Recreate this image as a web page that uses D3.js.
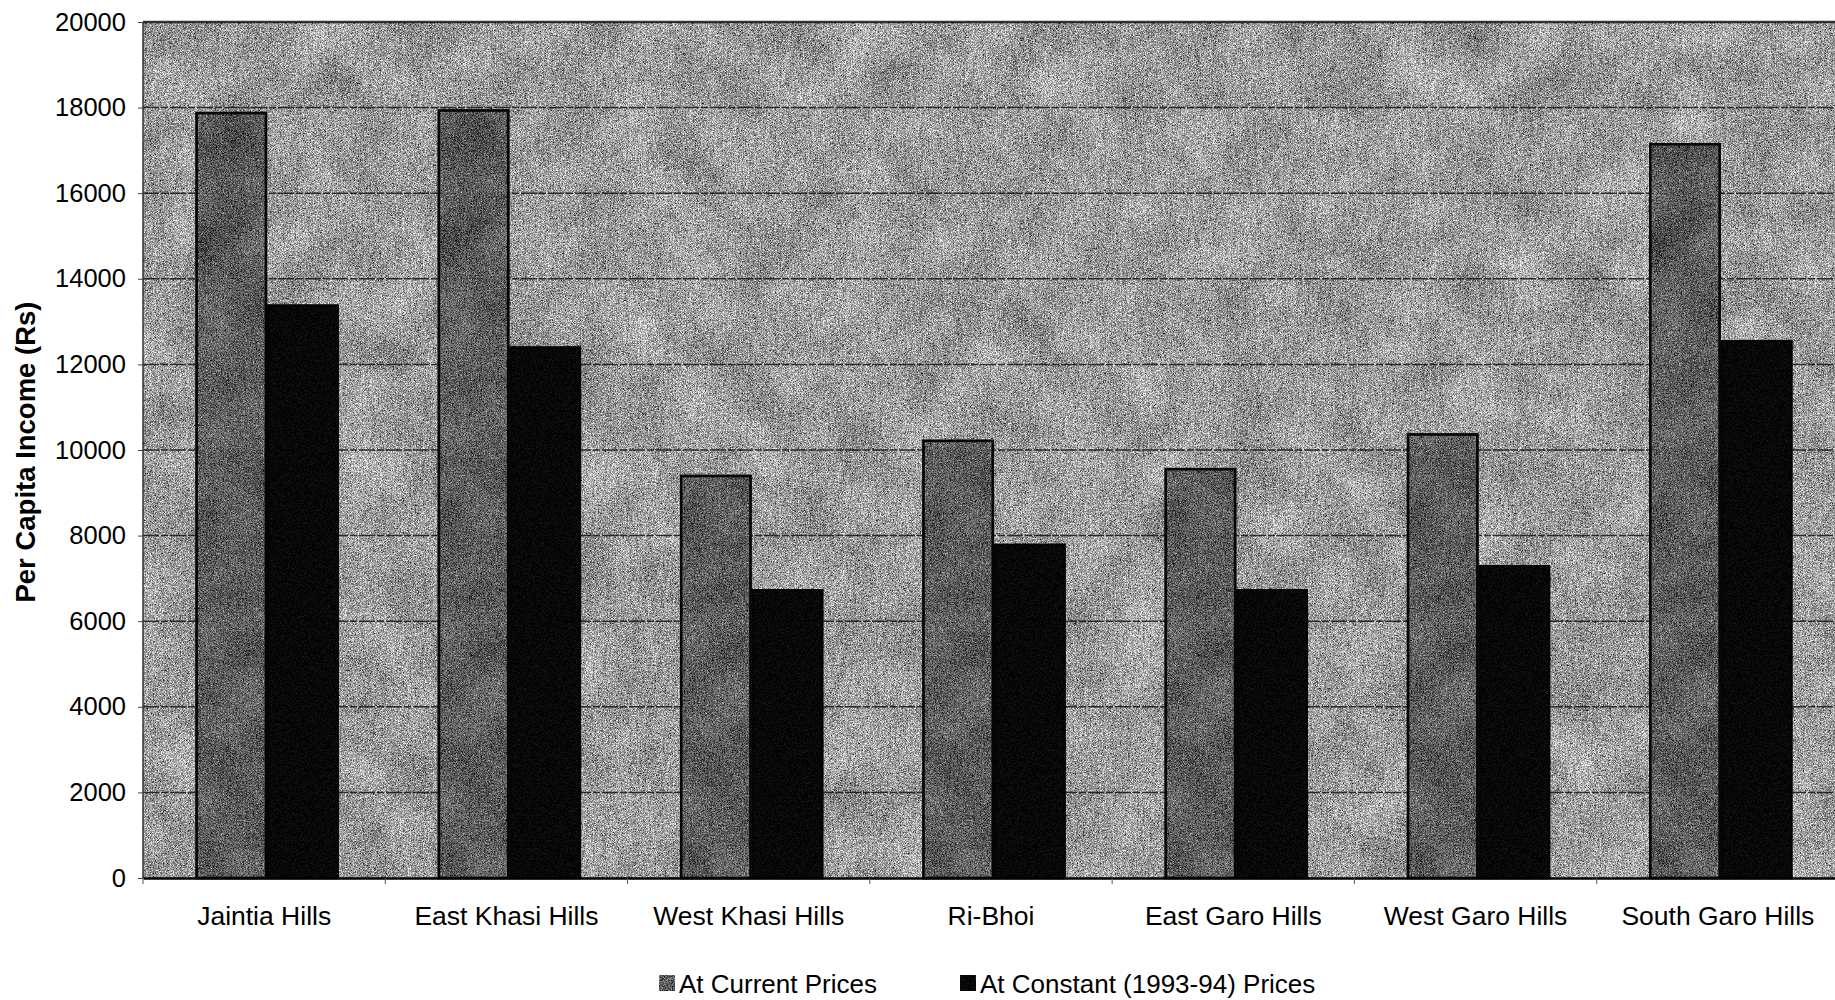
<!DOCTYPE html>
<html>
<head>
<meta charset="utf-8">
<script src="https://cdn.jsdelivr.net/npm/d3@7"></script>
<style>
  html, body { margin: 0; padding: 0; background: #ffffff; }
  svg { display: block; font-family: "Liberation Sans", Arial, Helvetica, sans-serif; }
</style>
</head>
<body>
<svg id="chart" width="1835" height="1000"></svg>
<script>
// ---- data ----
const categories = ["Jaintia Hills", "East Khasi Hills", "West Khasi Hills", "Ri-Bhoi",
                    "East Garo Hills", "West Garo Hills", "South Garo Hills"];
const seriesNames = ["At Current Prices", "At Constant (1993-94) Prices"];
const currentPrices  = [17900, 17960, 9420, 10240, 9580, 10390, 17170];
const constantPrices = [13400, 12420, 6750, 7810, 6750, 7310, 12570];
const yTicks = [0, 2000, 4000, 6000, 8000, 10000, 12000, 14000, 16000, 18000, 20000];
const yTitle = "Per Capita Income (Rs)";

// ---- layout ----
const plot = { left: 143, top: 22, right: 1839, bottom: 878 };

const svg = d3.select("#chart");
const defs = svg.append("defs");

// grain filter: adds grayscale speckle noise (plus faint blotches) to the source colour
function grainFilter(id, freq, amount, blotAmount, seed) {
  const f = defs.append("filter").attr("id", id)
    .attr("x", 0).attr("y", 0).attr("width", "100%").attr("height", "100%")
    .attr("filterUnits", "objectBoundingBox").attr("color-interpolation-filters", "sRGB");
  const gm = "0.33 0.33 0.33 0 0  0.33 0.33 0.33 0 0  0.33 0.33 0.33 0 0  0 0 0 0 1";
  f.append("feTurbulence").attr("type", "fractalNoise").attr("baseFrequency", freq)
    .attr("numOctaves", 1).attr("seed", seed).attr("result", "noise");
  f.append("feColorMatrix").attr("in", "noise").attr("type", "matrix").attr("values", gm)
    .attr("result", "gray");
  f.append("feTurbulence").attr("type", "fractalNoise").attr("baseFrequency", 0.018)
    .attr("numOctaves", 2).attr("seed", seed + 7).attr("result", "blot");
  f.append("feColorMatrix").attr("in", "blot").attr("type", "matrix").attr("values", gm)
    .attr("result", "blotGray");
  f.append("feComposite").attr("in", "SourceGraphic").attr("in2", "gray")
    .attr("operator", "arithmetic").attr("k1", 0).attr("k2", 1).attr("k3", amount).attr("k4", -amount / 2)
    .attr("result", "mix1");
  f.append("feComposite").attr("in", "mix1").attr("in2", "blotGray")
    .attr("operator", "arithmetic").attr("k1", 0).attr("k2", 1).attr("k3", blotAmount).attr("k4", -blotAmount / 2)
    .attr("result", "mix2");
  f.append("feComposite").attr("in", "mix2").attr("in2", "SourceGraphic").attr("operator", "in");
}
grainFilter("grainBg", 1.4, 2.6, 0.45, 3);
grainFilter("grainBar", 1.4, 2.0, 0.4, 11);
grainFilter("grainDark", 1.4, 0.5, 0.0, 19);

// ---- scales ----
const x = d3.scaleBand().domain(categories).range([plot.left, plot.right]).paddingInner(0).paddingOuter(0);
const xs = d3.scaleBand().domain(seriesNames).range([0, x.bandwidth()])
  .paddingInner(0).paddingOuter(0.69).align(0.53);
const y = d3.scaleLinear().domain([0, 20000]).range([plot.bottom, plot.top]);

const rows = categories.map((c, i) => ({ cat: c, values: [currentPrices[i], constantPrices[i]] }));

// ---- plot background ----
svg.append("rect")
  .attr("x", plot.left).attr("y", plot.top)
  .attr("width", plot.right - plot.left).attr("height", plot.bottom - plot.top)
  .attr("fill", "#a0a0a0").attr("filter", "url(#grainBg)");

// gridlines
svg.append("g").selectAll("line").data(yTicks.filter(t => t > 0)).join("line")
  .attr("x1", plot.left).attr("x2", plot.right)
  .attr("y1", d => y(d)).attr("y2", d => y(d))
  .attr("stroke", "#151515").attr("stroke-width", d => d === 20000 ? 2.5 : 1.5)
  .attr("stroke-dasharray", d => d === 20000 ? null : "16,2,7,2")
  .attr("opacity", 0.85);

// left border of plot
svg.append("line").attr("x1", plot.left).attr("x2", plot.left)
  .attr("y1", plot.top).attr("y2", plot.bottom)
  .attr("stroke", "#333").attr("stroke-width", 1.5);

// ---- bars ----
const seriesFill = ["#606060", "#080808"];
const seriesFilter = ["url(#grainBar)", "url(#grainDark)"];
const groups = svg.append("g").selectAll("g").data(rows).join("g")
  .attr("transform", d => `translate(${x(d.cat)},0)`);
groups.selectAll("rect.bar")
  .data(d => d.values.map((v, j) => ({ s: seriesNames[j], j, v })))
  .join("rect").attr("class", "bar")
  .attr("x", d => xs(d.s))
  .attr("y", d => y(d.v))
  .attr("width", xs.bandwidth())
  .attr("height", d => y(0) - y(d.v))
  .attr("fill", d => seriesFill[d.j])
  .attr("filter", d => seriesFilter[d.j]);
// bar outlines
groups.selectAll("rect.outline")
  .data(d => d.values.map((v, j) => ({ s: seriesNames[j], j, v })))
  .join("rect").attr("class", "outline")
  .attr("x", d => xs(d.s) + 1.2)
  .attr("y", d => y(d.v) + 1.2)
  .attr("width", xs.bandwidth() - 2.4)
  .attr("height", d => y(0) - y(d.v) - 1.2)
  .attr("fill", "none").attr("stroke", "#050505").attr("stroke-width", 2.6);

// ---- axes ----
const yAxis = d3.axisLeft(y).tickValues(yTicks).tickSize(5).tickPadding(12).tickFormat(d3.format("d"));
const gy = svg.append("g").attr("transform", `translate(${plot.left},0)`).call(yAxis);
gy.select(".domain").remove();
gy.selectAll(".tick line").attr("stroke", "#444").attr("stroke-width", 1);
gy.selectAll(".tick text").attr("font-size", 25.5).attr("fill", "#000")
  .attr("font-family", "'Liberation Sans', Arial, sans-serif");

const xAxis = d3.axisBottom(x).tickSize(0).tickPadding(28);
const gx = svg.append("g").attr("transform", `translate(0,${plot.bottom})`).call(xAxis);
gx.select(".domain").attr("stroke", "#000").attr("stroke-width", 2.5);
gx.selectAll(".tick text").attr("font-size", 26.5).attr("fill", "#000")
  .attr("font-family", "'Liberation Sans', Arial, sans-serif");
// category separators (tick marks at band edges)
svg.append("g").selectAll("line").data(categories).join("line")
  .attr("x1", d => x(d)).attr("x2", d => x(d))
  .attr("y1", plot.bottom).attr("y2", plot.bottom + 6)
  .attr("stroke", "#555").attr("stroke-width", 1);

// y axis title
svg.append("text")
  .attr("transform", `translate(35,452) rotate(-90)`)
  .attr("text-anchor", "middle")
  .attr("font-size", 27.5).attr("font-weight", "bold").attr("fill", "#000")
  .text(yTitle);

// ---- legend ----
const legendItems = [
  { name: seriesNames[0], sx: 659, fill: seriesFill[0], filter: seriesFilter[0] },
  { name: seriesNames[1], sx: 960, fill: seriesFill[1], filter: seriesFilter[1] }
];
const lg = svg.append("g").selectAll("g").data(legendItems).join("g")
  .attr("transform", d => `translate(${d.sx},975)`);
lg.append("rect").attr("width", 16).attr("height", 16)
  .attr("fill", d => d.fill).attr("filter", d => d.filter);
lg.append("text").attr("x", 20).attr("y", 17.5)
  .attr("font-size", 26).attr("fill", "#000")
  .text(d => d.name);
</script>
</body>
</html>
